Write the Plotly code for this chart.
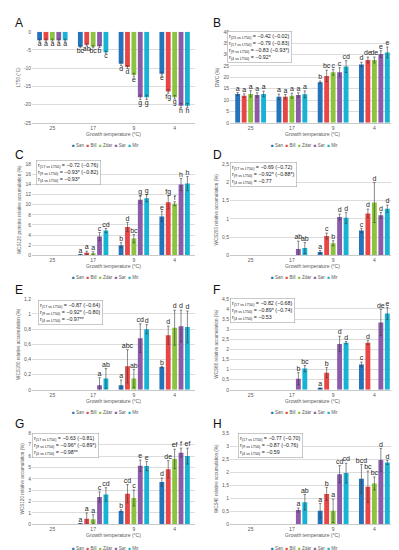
import plotly.graph_objects as go

categories = ["25", "17", "9", "4"]
cultivars = ["San", "Bill", "Zdar", "Sar", "Mir"]
colors = ["#2474bb", "#e84646", "#8cc43f", "#8b5aa8", "#17b3d4"]
xtitle = "Growth temperature (°C)"

# ---- Panel A: LT50 (rows = cultivars, cols = temperatures) ----
lt50_mean = [[-2.3, -4.1, -8.8, -11.5],
             [-2.3, -3.6, -9.7, -16.4],
             [-2.3, -4.1, -11.9, -18.0],
             [-2.3, -4.0, -18.0, -20.3],
             [-2.3, -5.6, -18.0, -20.3]]
lt50_err = [[0.3, 0.3, 0.5, 0.4],
            [0.3, 0.3, 0.4, 0.5],
            [0.3, 0.3, 0.5, 0.5],
            [0.3, 0.3, 0.6, 0.6],
            [0.3, 0.3, 0.6, 0.6]]
lt50_letters = [["a", "bc", "d", "e"],
                ["a", "ab", "d", "fg"],
                ["a", "bc", "e", "g"],
                ["a", "b", "g", "h"],
                ["a", "c", "g", "h"]]
lt50_ticks = [0, -5, -10, -15, -20, -25]

# ---- Panel B: DWC ----
dwc_mean = [[12.7, 11.4, 17.8, 25.6],
            [11.9, 11.4, 20.6, 27.6],
            [12.7, 11.9, 22.2, 27.6],
            [12.2, 12.2, 22.2, 30.2],
            [12.7, 12.5, 24.7, 30.9]]
dwc_err = [[0.6, 1.2, 0.5, 1.0],
           [0.8, 1.0, 2.5, 1.3],
           [1.4, 1.1, 1.3, 1.3],
           [1.0, 1.0, 2.0, 1.5],
           [1.2, 1.5, 2.6, 2.4]]
dwc_letters = [["a", "a", "b", "d"],
               ["a", "a", "bc", "de"],
               ["a", "a", "c", "de"],
               ["a", "a", "c", "e"],
               ["a", "a", "cd", "e"]]
dwc_ticks = [0, 5, 10, 15, 20, 25, 30, 35, 40]
dwc_corr = [("(25 vs LT50)", "= −0.42 (−0.02)"),
            ("(17 vs LT50)", "= −0.79 (−0.83)"),
            ("(9 vs LT50)", "= −0.83 (−0.93*)"),
            ("(4 vs LT50)", "= −0.92*")]

# ---- Panel C: WCS120 proteins ----
wcs120p_mean = [[None, 0.1, 2.0, 7.7],
                [None, 0.5, 5.6, 10.5],
                [None, 0.4, 3.3, 10.2],
                [None, 3.7, 11.0, 14.0],
                [None, 4.9, 11.3, 14.2]]
wcs120p_err = [[None, 0.05, 0.5, 1.0],
               [None, 0.3, 0.9, 1.3],
               [None, 0.3, 0.8, 0.4],
               [None, 0.8, 0.7, 1.2],
               [None, 0.4, 0.7, 1.4]]
wcs120p_letters = [["", "a", "b", "e"],
                   ["", "a", "d", "fg"],
                   ["", "a", "bc", "f"],
                   ["", "c", "g", "h"],
                   ["", "cd", "g", "h"]]
wcs120p_ticks = [0, 2, 4, 6, 8, 10, 12, 14, 16, 18]
wcs120p_corr = [("(17 vs LT50)", "= −0.72 (−0.76)"),
                ("(9 vs LT50)", "= −0.93* (−0.82)"),
                ("(4 vs LT50)", "= −0.93*")]

# ---- Panel D: WCS200 ----
wcs200_mean = [[None, None, 0.09, 0.68],
               [None, None, 0.53, 1.15],
               [None, None, 0.33, 1.45],
               [None, 0.17, 1.05, 1.10],
               [None, 0.20, 1.03, 1.28]]
wcs200_err = [[None, None, 0.04, 0.06],
              [None, None, 0.08, 0.12],
              [None, None, 0.07, 0.55],
              [None, 0.22, 0.08, 0.08],
              [None, 0.15, 0.15, 0.10]]
wcs200_letters = [["", "", "a", "c"],
                  ["", "", "c", "d"],
                  ["", "", "b", "d"],
                  ["", "ab", "d", "d"],
                  ["", "ab", "d", "d"]]
wcs200_ticks = [0, 0.5, 1, 1.5, 2, 2.5]
wcs200_corr = [("(17 vs LT50)", "= −0.69 (−0.72)"),
               ("(9 vs LT50)", "= −0.92* (−0.88*)"),
               ("(4 vs LT50)", "= −0.77")]

# ---- Panel E: WCS180 ----
wcs180_mean = [[None, None, 0.06, 0.30],
               [None, None, 0.31, 0.72],
               [None, None, 0.15, 0.82],
               [None, 0.06, 0.68, 0.84],
               [None, 0.15, 0.80, 0.83]]
wcs180_err = [[None, None, 0.07, 0.01],
              [None, None, 0.22, 0.12],
              [None, None, 0.12, 0.23],
              [None, 0.10, 0.19, 0.21],
              [None, 0.13, 0.06, 0.21]]
wcs180_letters = [["", "", "a", "b"],
                  ["", "", "abc", "d"],
                  ["", "", "ab", "d"],
                  ["", "a", "cd", "d"],
                  ["", "ab", "d", "d"]]
wcs180_ticks = [0, 0.2, 0.4, 0.6, 0.8, 1, 1.2]
wcs180_corr = [("(17 vs LT50)", "= −0.87 (−0.64)"),
               ("(9 vs LT50)", "= −0.92* (−0.80)"),
               ("(4 vs LT50)", "= −0.97**")]

# ---- Panel F: WCS66 ----
wcs66_mean = [[None, None, 0.07, 1.25],
              [None, None, 0.85, 2.33],
              [None, None, None, None],
              [None, 0.55, 2.27, 3.33],
              [None, 1.05, 2.33, 3.77]]
wcs66_err = [[None, None, 0.02, 0.12],
             [None, None, 0.25, 0.10],
             [None, None, None, None],
             [None, 0.30, 0.38, 0.65],
             [None, 0.15, 0.06, 0.30]]
wcs66_letters = [["", "", "a", "c"],
                 ["", "", "b", "d"],
                 ["", "", "", ""],
                 ["", "b", "d", "de"],
                 ["", "bc", "d", "e"]]
wcs66_ticks = [0, 0.5, 1, 1.5, 2, 2.5, 3, 3.5, 4, 4.5]
wcs66_corr = [("(17 vs LT50)", "= −0.82 (−0.68)"),
              ("(9 vs LT50)", "= −0.89* (−0.74)"),
              ("(4 vs LT50)", "= −0.53")]

# ---- Panel G: WCS120 ----
wcs120_mean = [[None, 0.05, 1.18, 3.72],
               [None, 0.50, 2.70, 4.85],
               [None, 0.45, 2.32, 5.75],
               [None, 2.40, 5.15, 6.30],
               [None, 2.62, 5.12, 6.00]]
wcs120_err = [[None, 0.02, 0.10, 0.35],
              [None, 0.50, 0.80, 0.75],
              [None, 0.40, 0.70, 0.85],
              [None, 0.45, 0.50, 0.40],
              [None, 0.60, 0.40, 0.70]]
wcs120_letters = [["", "a", "b", "d"],
                  ["", "a", "cd", "de"],
                  ["", "a", "c", "ef"],
                  ["", "c", "e", "f"],
                  ["", "cd", "e", "ef"]]
wcs120_ticks = [0, 1, 2, 3, 4, 5, 6, 7, 8]
wcs120_corr = [("(17 vs LT50)", "= −0.63 (−0.81)"),
               ("(9 vs LT50)", "= −0.96* (−0.89*)"),
               ("(4 vs LT50)", "= −0.98**")]

# ---- Panel H: WCS40 ----
wcs40_mean = [[None, None, 0.52, 1.75],
              [None, None, 1.17, 1.45],
              [None, None, 0.52, 1.57],
              [None, 0.55, 1.93, 2.47],
              [None, 0.85, 1.97, 2.38]]
wcs40_err = [[None, None, 0.28, 0.55],
             [None, None, 0.25, 0.60],
             [None, None, 0.45, 0.25],
             [None, 0.08, 0.33, 0.45],
             [None, 0.30, 0.38, 0.08]]
wcs40_letters = [["", "", "a", "bcd"],
                 ["", "", "b", "bc"],
                 ["", "", "a", "bc"],
                 ["", "a", "cd", "d"],
                 ["", "ab", "cd", "d"]]
wcs40_ticks = [0, 0.5, 1, 1.5, 2, 2.5, 3, 3.5]
wcs40_corr = [("(17 vs LT50)", "= −0.77 (−0.70)"),
              ("(9 vs LT50)", "= −0.87 (−0.76)"),
              ("(4 vs LT50)", "= −0.59")]

# ------------------------------------------------------------------
W, H = 399, 550
FONT = "Liberation Sans, Arial, sans-serif"
GREY = "#595959"


def xd(px):
    return px / W


def yd(py):
    return 1 - py / H


left_col = (24, 187)
right_col = (222, 387)
rows = [(21, 113), (155, 247), (291, 383), (427, 519)]

panels = [
    dict(tag="A", mean=lt50_mean, err=lt50_err, let=lt50_letters, ticks=lt50_ticks,
         ytitle="LT50 (°C)", corr=None, col=left_col, row=rows[0], box=None),
    dict(tag="B", mean=dwc_mean, err=dwc_err, let=dwc_letters, ticks=dwc_ticks,
         ytitle="DWC (%)", corr=dwc_corr, col=right_col, row=rows[0], box=(219, 20)),
    dict(tag="C", mean=wcs120p_mean, err=wcs120p_err, let=wcs120p_letters, ticks=wcs120p_ticks,
         ytitle="WCS120 proteins relative accumulation (%)", corr=wcs120p_corr,
         col=left_col, row=rows[1], box=(28, 151)),
    dict(tag="D", mean=wcs200_mean, err=wcs200_err, let=wcs200_letters, ticks=wcs200_ticks,
         ytitle="WCS200 relative accumulation (%)", corr=wcs200_corr,
         col=right_col, row=rows[1], box=(222, 153)),
    dict(tag="E", mean=wcs180_mean, err=wcs180_err, let=wcs180_letters, ticks=wcs180_ticks,
         ytitle="WCS180 relative accumulation (%)", corr=wcs180_corr,
         col=left_col, row=rows[2], box=(30, 292)),
    dict(tag="F", mean=wcs66_mean, err=wcs66_err, let=wcs66_letters, ticks=wcs66_ticks,
         ytitle="WCS66 relative accumulation (%)", corr=wcs66_corr,
         col=right_col, row=rows[2], box=(222, 290)),
    dict(tag="G", mean=wcs120_mean, err=wcs120_err, let=wcs120_letters, ticks=wcs120_ticks,
         ytitle="WCS120 relative accumulation (%)", corr=wcs120_corr,
         col=left_col, row=rows[3], box=(24, 427)),
    dict(tag="H", mean=wcs40_mean, err=wcs40_err, let=wcs40_letters, ticks=wcs40_ticks,
         ytitle="WCS40 relative accumulation (%)", corr=wcs40_corr,
         col=right_col, row=rows[3], box=(230, 427)),
]

slot = 0.157
bar_w = 0.118

fig = go.Figure()
annotations = []
layout = {}

for k, p in enumerate(panels, start=1):
    xa = "x" if k == 1 else f"x{k}"
    ya = "y" if k == 1 else f"y{k}"
    xname = "xaxis" if k == 1 else f"xaxis{k}"
    yname = "yaxis" if k == 1 else f"yaxis{k}"
    negative = min(p["ticks"]) < 0

    for j, name in enumerate(cultivars):
        xs = [i + (j - 2) * slot for i in range(len(categories))]
        vals = p["mean"][j]
        errs = p["err"][j]
        fig.add_trace(go.Bar(
            x=xs, y=vals, width=bar_w, name=name,
            marker=dict(color=colors[j], line=dict(width=0)),
            error_y=dict(type="data", array=errs, visible=True,
                         color="#3a3a3a", thickness=0.6, width=1.2),
            xaxis=xa, yaxis=ya, showlegend=False, hoverinfo="skip"))
        lx, ly, lt = [], [], []
        for xv, v, e, t in zip(xs, vals, errs, p["let"][j]):
            if v is None or not t:
                continue
            lx.append(xv)
            ly.append(v - (e or 0) if negative else v + (e or 0))
            lt.append(t)
        if lt:
            fig.add_trace(go.Scatter(
                x=lx, y=ly, mode="text", text=lt,
                textposition="bottom center" if negative else "top center",
                textfont=dict(family=FONT, size=7, color="#262626"),
                xaxis=xa, yaxis=ya, showlegend=False, hoverinfo="skip",
                cliponaxis=False))

    x0, x1 = p["col"]
    y0, y1 = p["row"]
    ticks = p["ticks"]
    layout[xname] = dict(
        domain=[xd(x0), xd(x1)], anchor=ya, range=[-0.5, 3.5],
        tickvals=list(range(len(categories))), ticktext=categories,
        showgrid=False, zeroline=False, showline=True, linecolor="#c8c8c8",
        linewidth=0.7, ticks="", tickfont=dict(family=FONT, size=5, color=GREY),
        title=dict(text=xtitle, font=dict(family=FONT, size=5, color=GREY), standoff=2),
        fixedrange=True)
    layout[yname] = dict(
        domain=[yd(y1), yd(y0)], anchor=xa, range=[min(ticks), max(ticks)],
        tickvals=ticks, ticktext=[str(t).replace(".", ",") for t in ticks],
        showgrid=True, gridcolor="#dcdcdc", gridwidth=0.6, zeroline=False,
        showline=False, ticks="", tickfont=dict(family=FONT, size=5, color=GREY),
        title=dict(text=p["ytitle"], font=dict(family=FONT, size=4.6, color=GREY), standoff=3),
        fixedrange=True)

    # panel letter
    annotations.append(dict(
        text=p["tag"], xref="paper", yref="paper",
        x=xd(x0 - 19), y=yd(y0 - 9), xanchor="left", yanchor="middle",
        showarrow=False, font=dict(family=FONT, size=12, color="#111111")))

    # legend (compact, as text)
    leg = "  ".join(f"<span style='color:{c}'>■</span> {n}" for c, n in zip(colors, cultivars))
    leg_y = {21: 136, 155: 269, 291: 406, 427: 543}[y0]
    annotations.append(dict(
        text=leg, xref="paper", yref="paper",
        x=xd((x0 + x1) / 2 - 8), y=yd(leg_y), xanchor="center", yanchor="middle",
        showarrow=False, font=dict(family=FONT, size=4.5, color=GREY)))

    # correlation box
    if p["corr"]:
        lines = "<br>".join(f"r<sub>{s}</sub> {v}" for s, v in p["corr"])
        bx, by = p["box"]
        annotations.append(dict(
            text=lines, xref="paper", yref="paper", x=xd(bx), y=yd(by),
            xanchor="left", yanchor="top", align="left", showarrow=False,
            bgcolor="white", bordercolor="#a6a6a6", borderwidth=0.6, borderpad=1.5,
            font=dict(family=FONT, size=5.3, color="#1a1a1a")))

fig.update_layout(
    width=W, height=H, margin=dict(l=0, r=0, t=0, b=0),
    paper_bgcolor="white", plot_bgcolor="white",
    barmode="overlay", showlegend=False,
    annotations=annotations, font=dict(family=FONT), **layout)

fig.write_html("out.html")
